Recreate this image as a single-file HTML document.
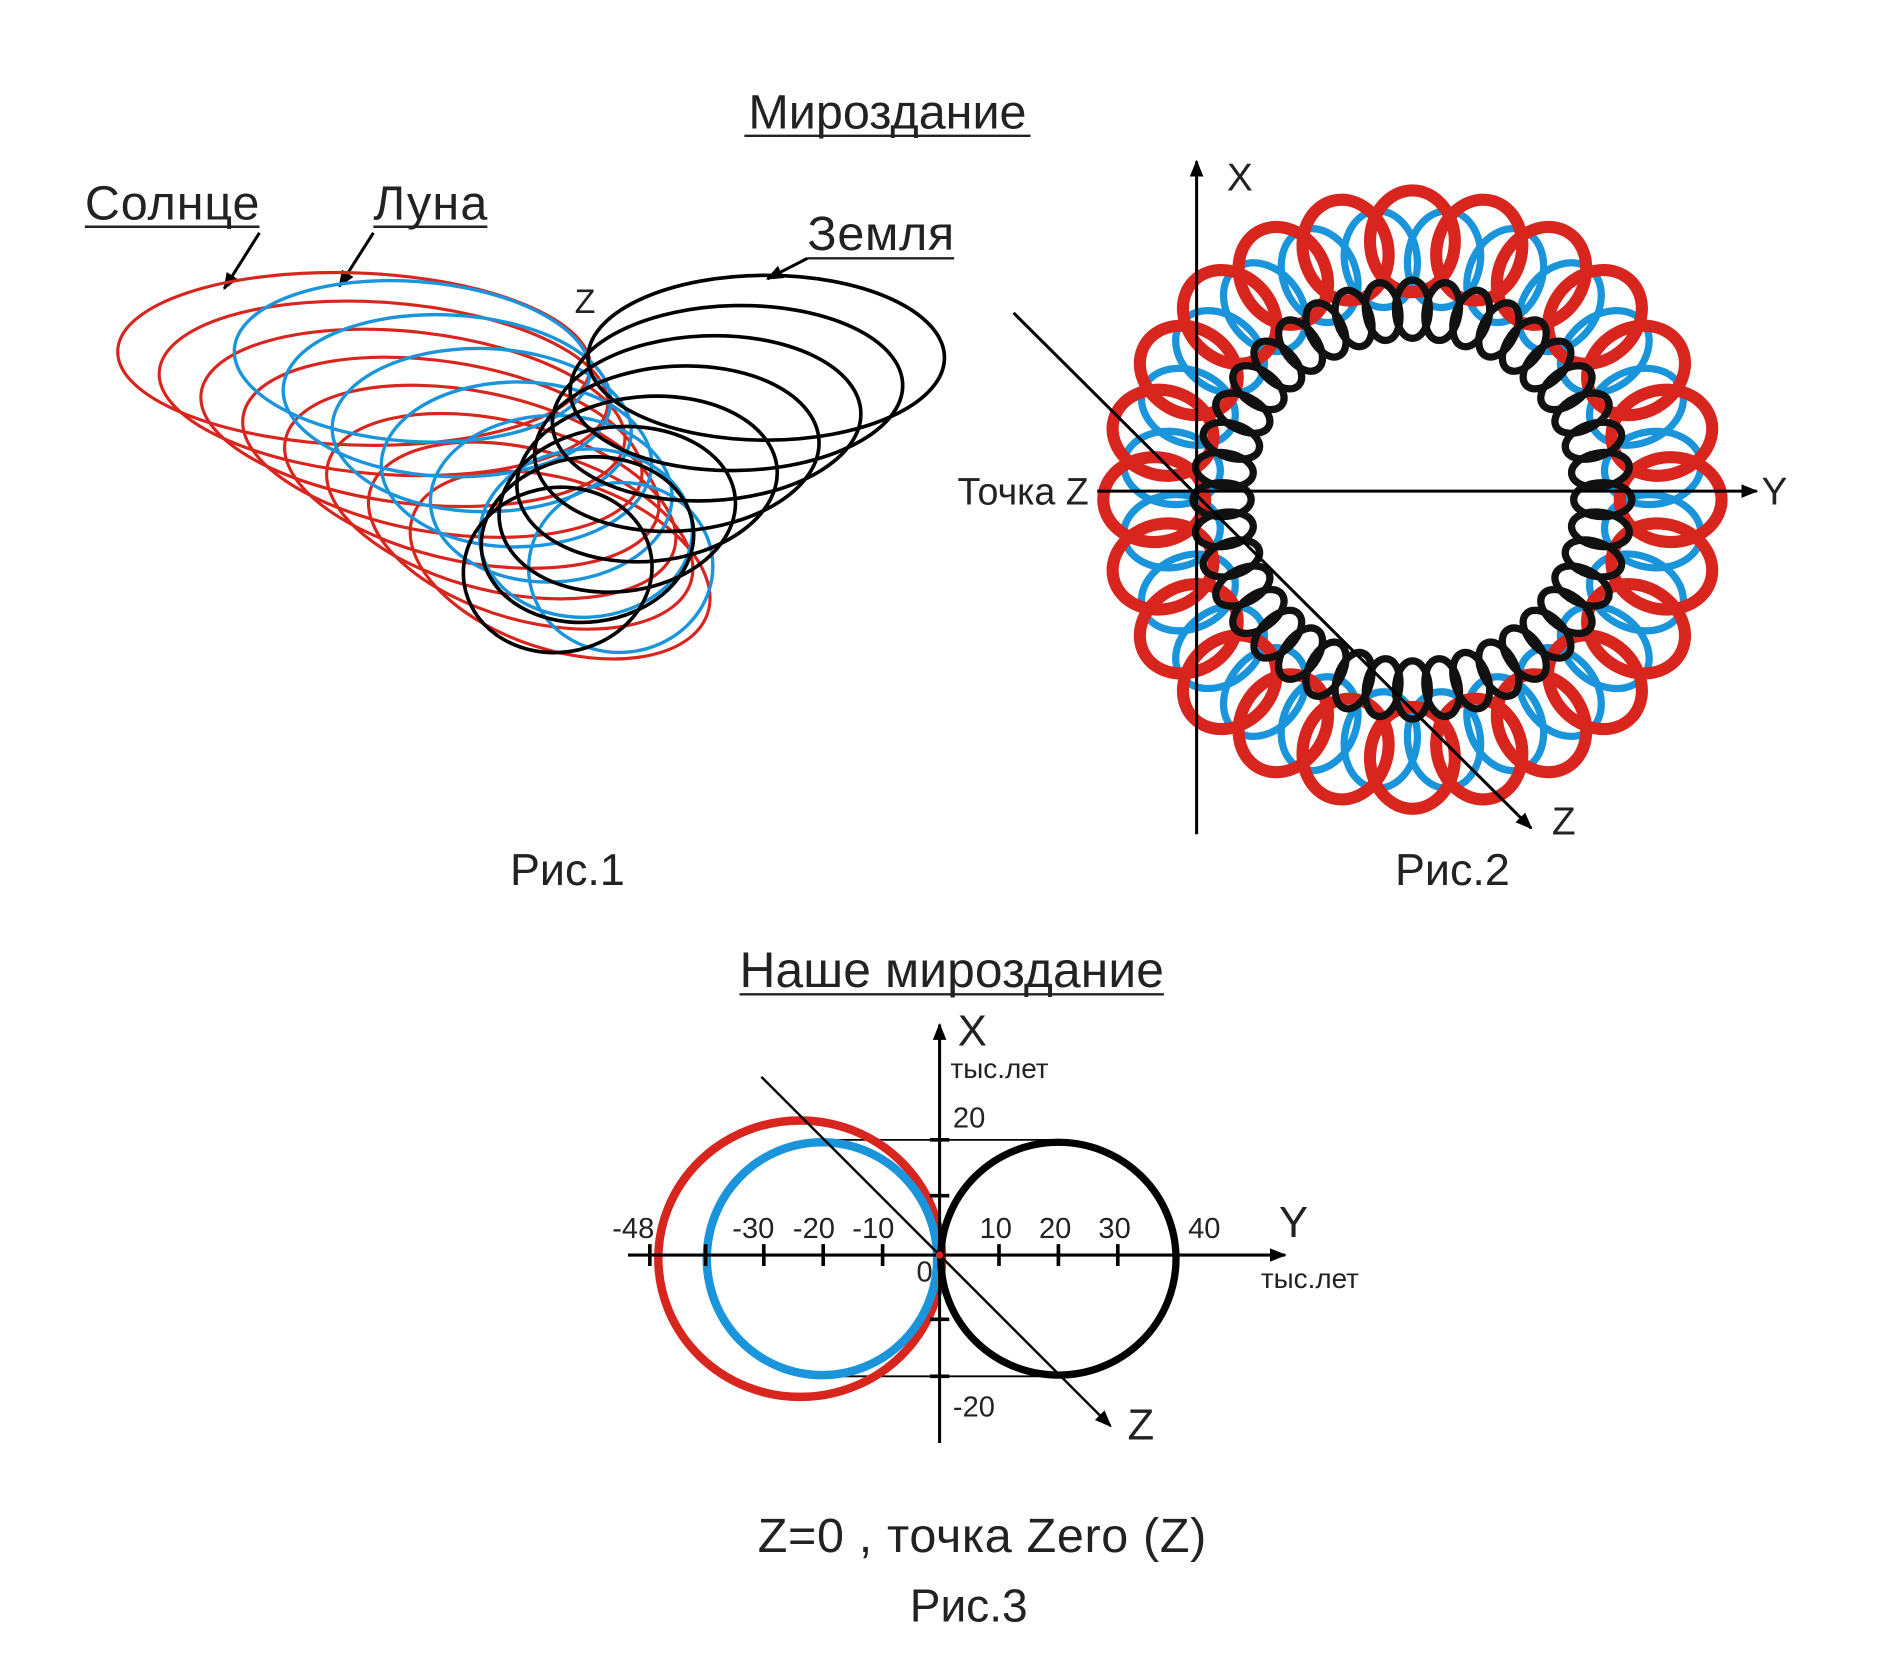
<!DOCTYPE html>
<html><head><meta charset="utf-8"><style>
html,body{margin:0;padding:0;background:#fff}
svg{display:block}
text{font-family:"Liberation Sans",sans-serif;fill:#222}
</style></head><body>
<svg id="s" width="1901" height="1654" viewBox="0 0 1568 1364" preserveAspectRatio="none" xmlns="http://www.w3.org/2000/svg">
<defs>
<marker id="ar2" viewBox="0 0 10 10" refX="9" refY="5" markerWidth="14" markerHeight="14" orient="auto" markerUnits="userSpaceOnUse"><path d="M0,1 L10,5 L0,9 z" fill="#000"/></marker>
</defs>
<text x="732" y="106" font-size="40" text-anchor="middle">Мироздание</text>
<line x1="614" y1="112" x2="850" y2="112" stroke="#222" stroke-width="2"/>
<text x="70" y="181" font-size="40" textLength="144">Солнце</text>
<line x1="70" y1="187" x2="214" y2="187" stroke="#222" stroke-width="2"/>
<text x="308" y="181" font-size="40" textLength="94">Луна</text>
<line x1="308" y1="187" x2="402" y2="187" stroke="#222" stroke-width="2"/>
<text x="666" y="206" font-size="40" textLength="121">Земля</text>
<line x1="666" y1="213" x2="787" y2="213" stroke="#222" stroke-width="2"/>
<line x1="214" y1="192" x2="185" y2="238" stroke="#000" stroke-width="2.5" marker-end="url(#ar2)"/>
<line x1="308" y1="192" x2="280" y2="236" stroke="#000" stroke-width="2.5" marker-end="url(#ar2)"/>
<line x1="666" y1="213" x2="633" y2="230" stroke="#000" stroke-width="2.5" marker-end="url(#ar2)"/>
<text x="474" y="258" font-size="28">Z</text>
<g id="f1"></g>
<text x="468" y="730" font-size="37" text-anchor="middle">Рис.1</text>
<g id="f2"></g>
<line x1="987" y1="688" x2="987" y2="133" stroke="#000" stroke-width="2.5" marker-end="url(#ar2)"/>
<line x1="905" y1="405" x2="1449" y2="405" stroke="#000" stroke-width="2.5" marker-end="url(#ar2)"/>
<line x1="836" y1="258" x2="1263" y2="683" stroke="#000" stroke-width="2.5" marker-end="url(#ar2)"/>
<text x="1012" y="157" font-size="32">X</text>
<text x="1453" y="416" font-size="32">Y</text>
<text x="1280" y="688" font-size="32">Z</text>
<text x="898" y="416" font-size="31" text-anchor="end">Точка Z</text>
<text x="1198" y="730" font-size="37" text-anchor="middle">Рис.2</text>
<text x="785" y="814" font-size="41" text-anchor="middle" textLength="350">Наше мироздание</text>
<line x1="610" y1="820" x2="960" y2="820" stroke="#222" stroke-width="2"/>
<line x1="680" y1="940" x2="873" y2="940" stroke="#000" stroke-width="1.5"/>
<line x1="680" y1="1135" x2="873" y2="1135" stroke="#000" stroke-width="1.5"/>
<ellipse cx="660" cy="1038" rx="117" ry="114" fill="none" stroke="#d8261f" stroke-width="7"/>
<ellipse cx="678" cy="1038" rx="95" ry="96" fill="none" stroke="#1a95db" stroke-width="7"/>
<ellipse cx="873" cy="1038" rx="97" ry="96" fill="none" stroke="#000" stroke-width="6"/>
<line x1="518" y1="1035" x2="1060" y2="1035" stroke="#000" stroke-width="2.5" marker-end="url(#ar2)"/>
<line x1="775" y1="1190" x2="775" y2="845" stroke="#000" stroke-width="2.5" marker-end="url(#ar2)"/>
<line x1="628" y1="888" x2="916" y2="1176" stroke="#000" stroke-width="2" marker-end="url(#ar2)"/>
<g stroke="#000" stroke-width="3">
<line x1="536" y1="1026" x2="536" y2="1044"/><line x1="582" y1="1026" x2="582" y2="1044"/>
<line x1="630" y1="1026" x2="630" y2="1044"/><line x1="679" y1="1026" x2="679" y2="1044"/>
<line x1="728" y1="1026" x2="728" y2="1044"/><line x1="824" y1="1026" x2="824" y2="1044"/>
<line x1="873" y1="1026" x2="873" y2="1044"/><line x1="922" y1="1026" x2="922" y2="1044"/>
<line x1="767" y1="940" x2="783" y2="940"/><line x1="767" y1="986" x2="783" y2="986"/>
<line x1="767" y1="1088" x2="783" y2="1088"/><line x1="767" y1="1135" x2="783" y2="1135"/>
</g>
<circle cx="775" cy="1035" r="3" fill="#d8261f"/>
<g font-size="24">
<text x="505" y="1021">-48</text><text x="604" y="1021">-30</text><text x="654" y="1021">-20</text><text x="703" y="1021">-10</text>
<text x="808" y="1021">10</text><text x="857" y="1021">20</text><text x="906" y="1021">30</text><text x="980" y="1021">40</text>
<text x="786" y="930">20</text><text x="786" y="1168">-20</text><text x="756" y="1057">0</text>
<text x="784" y="889" font-size="23">тыс.лет</text><text x="1040" y="1062" font-size="23">тыс.лет</text>
</g>
<text x="790" y="862" font-size="36">X</text>
<text x="1055" y="1020" font-size="36">Y</text>
<text x="930" y="1187" font-size="36">Z</text>
<text x="810" y="1280" font-size="40" text-anchor="middle" textLength="370">Z=0 , точка Zero (Z)</text>
<text x="799" y="1337" font-size="38" text-anchor="middle">Рис.3</text>
</svg>
<script>
var NS="http://www.w3.org/2000/svg";
function el(p,a){var e=document.createElementNS(NS,"ellipse");for(var k in a)e.setAttribute(k,a[k]);e.setAttribute("fill","none");p.appendChild(e);}
function lerp(a,b,t){return a+(b-a)*t}
var f1=document.getElementById("f1");
function series(n,c0,c1,col,w){for(var i=0;i<n;i++){var t=i/(n-1);
var cx=lerp(c0[0],c1[0],t),cy=lerp(c0[1],c1[1],t),rx=lerp(c0[2],c1[2],t),ry=lerp(c0[3],c1[3],t),r=lerp(c0[4],c1[4],t);
el(f1,{cx:cx,cy:cy,rx:rx,ry:ry,transform:"rotate("+r+" "+cx+" "+cy+")",stroke:col,"stroke-width":w});}}
series(8,[292,296,195,71,2],[462,466,128,70,18],"#d8261f",2.6);
series(7,[340,298,147,66,4],[512,468,76,70,-5],"#1a95db",2.8);
series(8,[632,295,147,68,0],[460,470,78,68,-8],"#000",3);
var f2=document.getElementById("f2");var cx=1165,cy=412;
function ring(n,R,ra,rt,col,w,off){for(var i=0;i<n;i++){var a=(i+off)/n*2*Math.PI;var x=cx+R*Math.cos(a),y=cy+R*Math.sin(a);
el(f2,{cx:x,cy:y,rx:ra,ry:rt,transform:"rotate("+(a*180/Math.PI)+" "+x+" "+y+")",stroke:col,"stroke-width":w});}}
ring(24,200,40,30,"#1a95db",6,0.5);
ring(24,213,42,35,"#d8261f",10,0);
ring(40,157,24,14,"#111",6,0);
</script>
</body></html>
